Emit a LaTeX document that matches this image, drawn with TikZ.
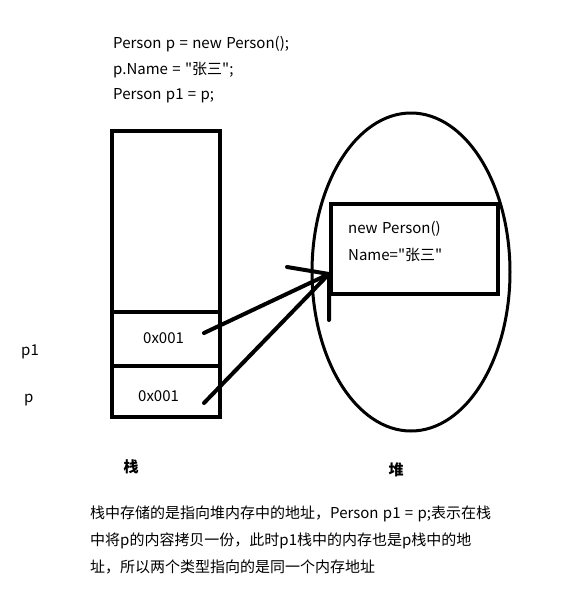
\documentclass[tikz,border=0pt]{standalone}
\usepackage{fontspec}
\setmainfont{Noto Sans CJK SC}[Ligatures=TeXOff, WordSpace=1.3]
\usepackage{tikz}
\usetikzlibrary{positioning, shapes.geometric}
\tikzstyle{txt} = [anchor=west, inner sep=0pt, font=\fontsize{15}{17}\selectfont]
\tikzstyle{cell} = [draw, line width=4pt]
\tikzstyle{line} = [draw, line width=4pt, line cap=round]
\tikzstyle{title} = [inner sep=0pt, font=\fontsize{15}{17}\selectfont\bfseries]

\begin{document}
\begin{tikzpicture}[x=1pt, y=-1pt]
        \useasboundingbox (0,0) rectangle (563,598);
        % Code
        \node (code1) [txt] at (113,44) {Person p = new Person();};
        \node (code2) [txt] at (113,70) {p.Name = "张三";};
        \node (code3) [txt] at (113,96) {Person p1 = p;};

        % Stack
        \draw [cell] (112,131) rectangle (220,417);
        \draw [cell] (112,312) -- (220,312);
        \draw [cell] (112,366) -- (222,366);
        \node (addr1) [txt] at (143,338) {0x001};
        \node (addr2) [txt] at (138,396) {0x001};
        \node (lp1) [txt] at (21,352) {p1};
        \node (lp) [txt] at (24,400) {p};
        \node (stack) [title] at (131,467) {栈};

        % Heap
        \node (heap) [ellipse, draw, line width=3pt, minimum width=198pt, minimum height=318pt, inner sep=0pt] at (411,272) {};
        \draw [cell] (331,204) rectangle (498,294);
        \node (obj1) [txt] at (348,229) {new Person()};
        \node (obj2) [txt] at (348,255) {Name="张三"};
        \node (heapl) [title] at (396,470) {堆};

        % Pointers
        \coordinate (tip) at (329,274);
        \coordinate (wing1) at (287,267);
        \coordinate (wing2) at (329,320);
        \coordinate (from1) at (204,333);
        \coordinate (from2) at (204,403);
        \path [line] (from1) -- (tip);
        \path [line] (from2) -- (tip);
        \path [line] (wing1) -- (tip) -- (wing2);

        % Note
        \node (note1) [txt] at (90,514) {栈中存储的是指向堆内存中的地址，Person p1 = p;表示在栈};
        \node (note2) [txt] at (90,541) {中将p的内容拷贝一份，此时p1栈中的内存也是p栈中的地};
        \node (note3) [txt] at (90,567) {址，所以两个类型指向的是同一个内存地址};
\end{tikzpicture}
\end{document}
